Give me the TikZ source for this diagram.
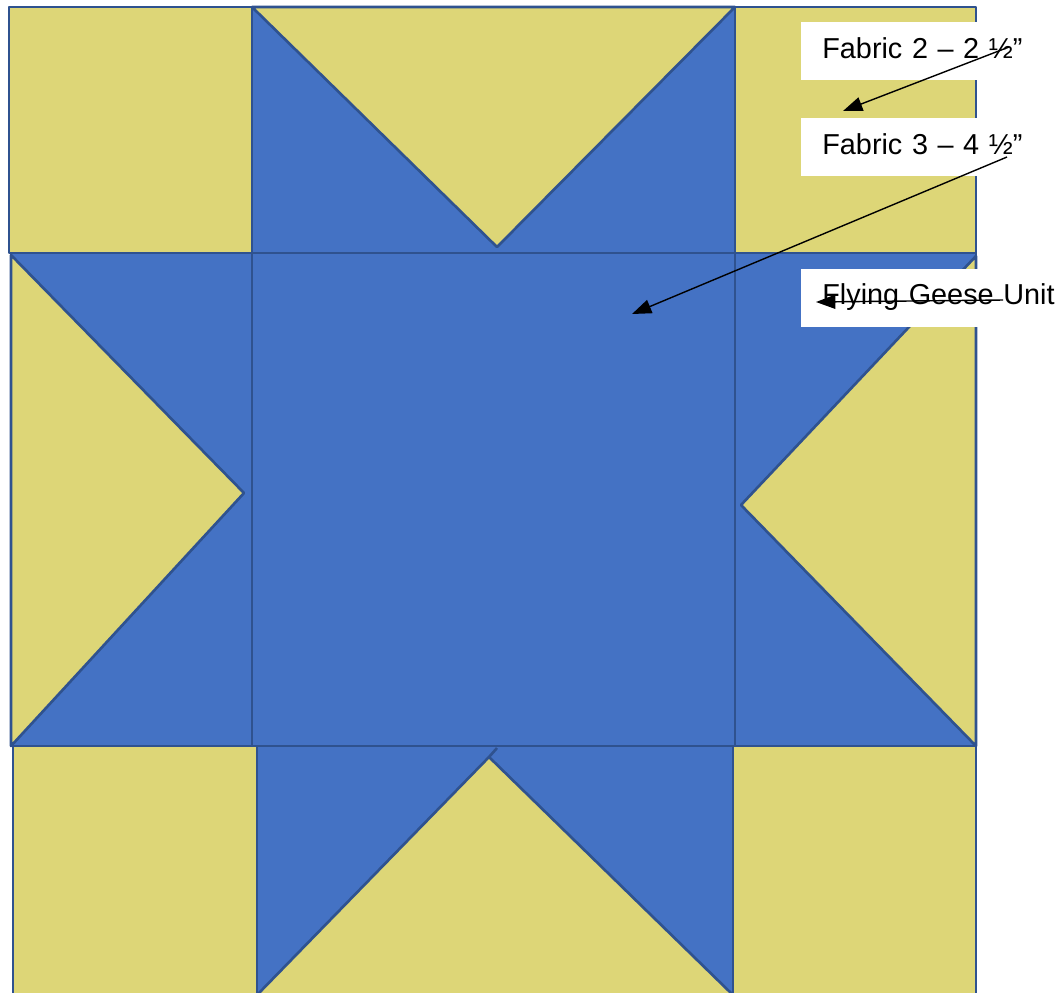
\documentclass[tikz,border=0pt]{standalone}
\usepackage{fontspec}
\setmainfont{Liberation Sans}
\usetikzlibrary{arrows.meta,positioning}

\definecolor{fabricgold}{HTML}{DDD677}
\definecolor{fabricblue}{HTML}{4472C4}
\definecolor{seam}{HTML}{2F528F}

\begin{document}
\begin{tikzpicture}[
    x=0.02cm, y=-0.02cm,
    goldpatch/.style={fill=fabricgold, draw=seam, line width=1.5pt, line join=round},
    bluepatch/.style={fill=fabricblue, draw=seam, line width=1.5pt, line join=round},
    tag/.style={fill=white, anchor=north west, minimum height=1.16cm, inner xsep=0.42cm, inner ysep=0pt,
        text width=5.6cm, align=left, text height=12pt, text depth=4pt, font=\fontsize{16.4}{19}\selectfont},
    link/.style={-{Triangle[length=11pt,width=8pt]}, line width=0.8pt}
]
\useasboundingbox (0,0) rectangle (1064,992);

% top row
\filldraw[goldpatch] (9,7) rectangle (252,253);
\filldraw[bluepatch] (252,7) rectangle (735,253);
\filldraw[goldpatch] (252,7) -- (735,7) -- (497,247) -- cycle;
\filldraw[goldpatch] (735,7) rectangle (976,253);

% middle row
\filldraw[bluepatch] (11,253) rectangle (252,746);
\filldraw[goldpatch] (11,255) -- (244,493) -- (11,746) -- cycle;
\filldraw[bluepatch] (252,253) rectangle (735,746);
\filldraw[bluepatch] (735,253) rectangle (976,746);
\filldraw[goldpatch] (976,256) -- (741,505) -- (976,746) -- cycle;

% bottom row
\filldraw[goldpatch] (13,746) rectangle (257,1010);
\filldraw[bluepatch] (257,746) rectangle (733,1010);
\filldraw[goldpatch] (733,746) rectangle (976,1010);
\fill[fabricgold] (257,995) -- (489,757) -- (733,995) -- cycle;
\draw[seam, line width=1.5pt, line join=round] (257,995) -- (489,757) -- (733,995);
\draw[seam, line width=1.5pt] (489,757) -- (497,748);

% labels
\node[tag] (fabtwo) at (801,22) {Fabric 2 – 2 ½”};
\node[tag, below=0.74cm of fabtwo.south west, anchor=north west] (fabthree) {Fabric 3 – 4 ½”};
\node[tag, below=1.84cm of fabthree.south west, anchor=north west] (geese) {Flying Geese Unit};

% pointers
\coordinate (fabtwo tail) at (1009,47);
\coordinate (fabtwo head) at (843,111);
\coordinate (fabthree tail) at (1007,157);
\coordinate (fabthree head) at (632,314);
\coordinate (geese tail) at (1003,300);
\coordinate (geese head) at (816,302);
\draw[link] (fabtwo tail) -- (fabtwo head);
\draw[link] (fabthree tail) -- (fabthree head);
\draw[link] (geese tail) -- (geese head);
\end{tikzpicture}
\end{document}
